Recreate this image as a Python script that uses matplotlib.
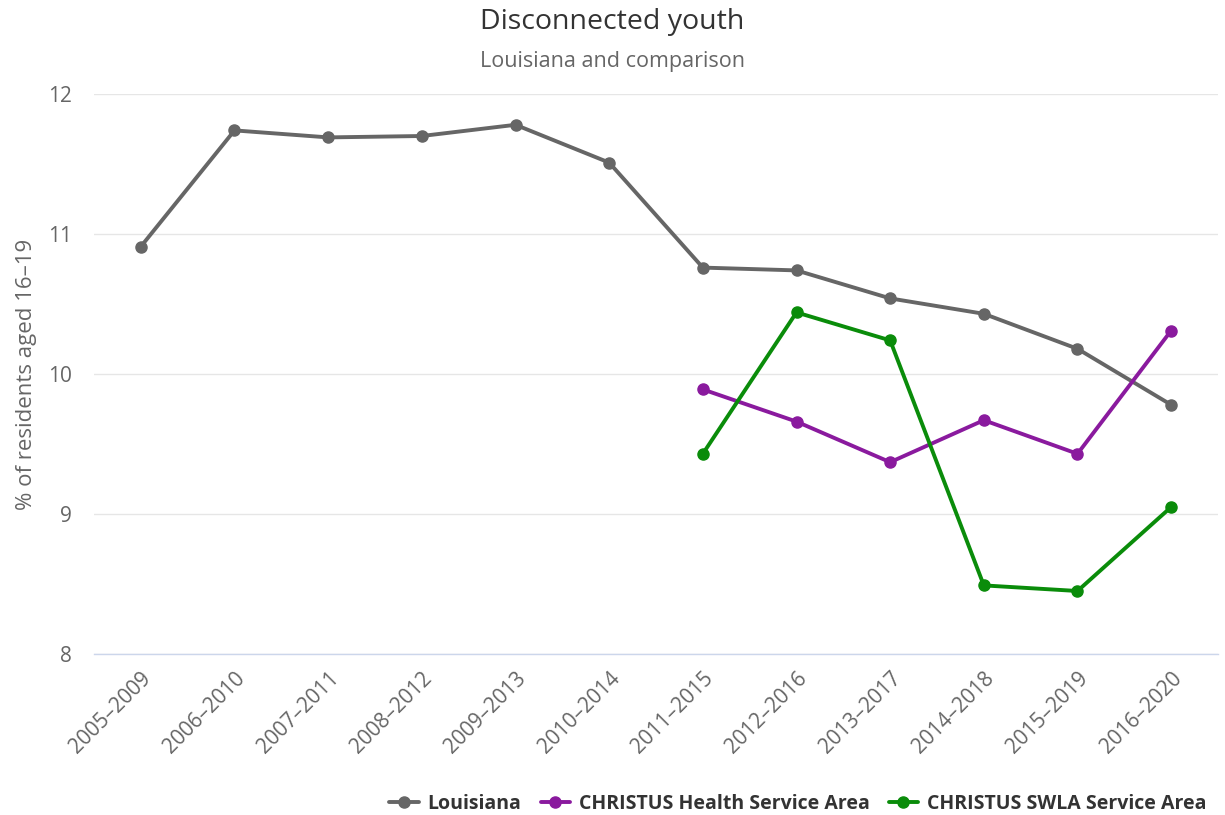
import matplotlib
matplotlib.use("Agg")
import matplotlib.pyplot as plt
import numpy as np
from matplotlib.transforms import ScaledTranslation

plt.rcParams['font.family'] = ['Open Sans', 'DejaVu Sans']

periods = ["2005–2009", "2006–2010", "2007–2011", "2008–2012", "2009–2013", "2010–2014",
           "2011–2015", "2012–2016", "2013–2017", "2014–2018", "2015–2019", "2016–2020"]

louisiana = [10.91, 11.74, 11.69, 11.70, 11.78, 11.51,
             10.76, 10.74, 10.54, 10.43, 10.18, 9.78]
christus_health = [None, None, None, None, None, None,
                   9.89, 9.66, 9.37, 9.67, 9.43, 10.31]
christus_swla = [None, None, None, None, None, None,
                 9.43, 10.44, 10.24, 8.49, 8.45, 9.05]

series = [
    ("Louisiana", louisiana, "#666666"),
    ("CHRISTUS Health Service Area", christus_health, "#8a1a9e"),
    ("CHRISTUS SWLA Service Area", christus_swla, "#0a8c0a"),
]

yticks = [8, 9, 10, 11, 12]

fig = plt.figure(figsize=(12.25, 8.15), dpi=100)
ax = fig.add_axes([94 / 1225, 1 - 654 / 815, (1218 - 94) / 1225, (654 - 94) / 815])

x = np.arange(len(periods))
handles = []
for name, vals, color in series:
    y = np.array([np.nan if v is None else v for v in vals], dtype=float)
    h, = ax.plot(x, y, color=color, lw=2.8, marker='o', markersize=8,
                 solid_capstyle='round', label=name, zorder=3)
    handles.append(h)

ax.set_xlim(-0.5, len(periods) - 0.5)
ax.set_ylim(8, 12)
ax.set_yticks(yticks)
ax.set_yticklabels([str(t) for t in yticks])
ax.set_xticks(x)
ax.set_xticklabels(periods, rotation=45, ha='right', rotation_mode='anchor')
shift = ScaledTranslation(-9 / 100, 0, fig.dpi_scale_trans)
for lbl in ax.get_xticklabels():
    lbl.set_transform(lbl.get_transform() + shift)

ax.grid(axis='y', color='#e6e6e6', lw=1)
ax.set_axisbelow(True)
for s in ['top', 'right', 'left']:
    ax.spines[s].set_visible(False)
ax.spines['bottom'].set_color('#ccd6eb')
ax.spines['bottom'].set_linewidth(1)
ax.tick_params(axis='both', length=0, colors='#666666', labelsize=15)
ax.tick_params(axis='y', pad=16)
ax.tick_params(axis='x', pad=10)

ax.set_ylabel("% of residents aged 16–19", color='#666666', fontsize=16, labelpad=8)

fig.text(0.5, 1 - 22 / 815, "Disconnected youth", ha='center', va='center',
         fontsize=20.5, color='#333333')
fig.text(0.5, 1 - 62 / 815, "Louisiana and comparison", ha='center', va='center',
         fontsize=15.5, color='#666666')

leg = fig.legend(handles=handles, loc='lower right', bbox_to_anchor=(0.999, -0.02),
                 ncol=3, frameon=False, handlelength=1.5, columnspacing=1.0,
                 handletextpad=0.45, prop={'weight': 'bold', 'size': 14})
for t in leg.get_texts():
    t.set_color('#333333')

fig.savefig("out.png", dpi=100)
